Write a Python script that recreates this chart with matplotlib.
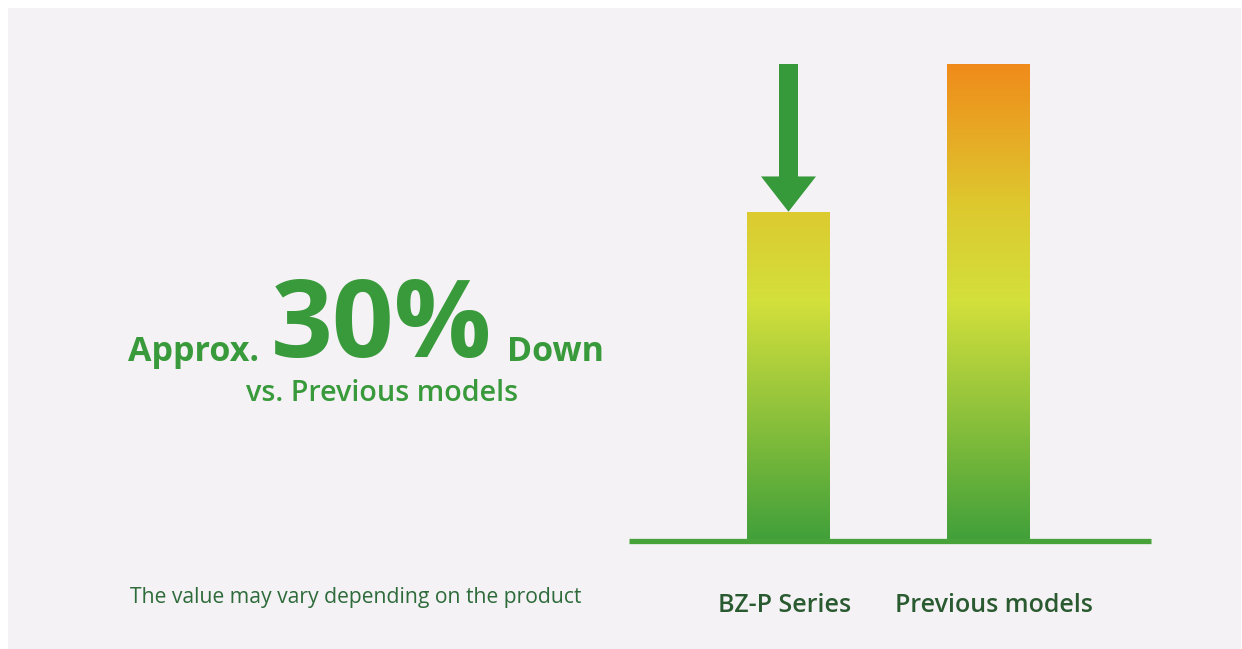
import numpy as np
import matplotlib
matplotlib.use("Agg")
import matplotlib.pyplot as plt
from matplotlib.colors import LinearSegmentedColormap
from matplotlib.patches import Rectangle, FancyArrow

plt.rcParams['font.family'] = ['Open Sans', 'DejaVu Sans']

# data
categories = ['BZ-P Series', 'Previous models']
values = [69, 100]
headline_prefix = 'Approx.'
headline_value = '30%'
headline_suffix = 'Down'
subtitle = 'vs. Previous models'
footnote = 'The value may vary depending on the product'

W, H = 1242, 649
fig = plt.figure(figsize=(W / 100, H / 100), dpi=100, facecolor='white')

def fx(px):
    return px / W

def fy(py):
    return 1 - py / H

# light panel
fig.patches.append(Rectangle((fx(8), 0), fx(1241) - fx(8), fy(8), transform=fig.transFigure,
                             facecolor='#f4f2f5', edgecolor='none', zorder=-5))

# bar axes: x 629..1151 px, y baseline 540.5 .. top 64
ax = fig.add_axes([fx(629), fy(540.5), fx(1151) - fx(629), fy(64) - fy(540.5)])
ax.set_facecolor('none')
ax.axis('off')

x = np.arange(len(categories))
bars = ax.bar(x, values, width=0.415, color='none', edgecolor='none')

cmap = LinearSegmentedColormap.from_list('grad', [(0.0, '#41a03a'), (0.5, '#d3e03c'),
                                                   (0.7, '#ddc92f'), (1.0, '#f08b1a')])
grad = np.linspace(0, 1, 256).reshape(-1, 1)
for b in bars:
    im = ax.imshow(grad, extent=[b.get_x(), b.get_x() + b.get_width(), 0, 100],
                   origin='lower', cmap=cmap, aspect='auto', zorder=2)
    im.set_clip_path(b)
ax.set_xlim(-0.7975, 1.8125)
ax.set_ylim(0, 100)

ax.axhline(0, color='#47a23a', lw=3.8, clip_on=False, solid_capstyle='butt', zorder=3)

# arrow from previous level down to new level
arr = FancyArrow(x[0], values[1], 0, values[0] - values[1], width=0.095, head_width=0.275,
                 head_length=7.4, length_includes_head=True, color='#369a3a', lw=0, zorder=4)
arr.set_clip_on(False)
ax.add_patch(arr)

# category labels (slight horizontal nudges as in the original layout)
label_dx = [-3.5, 5.5]
for xi, lab, dx in zip(x, categories, label_dx):
    ax.annotate(lab, (xi, 0), xytext=(dx * 0.72, -71 * 0.72), textcoords='offset points',
                ha='center', va='baseline', fontsize=18, fontweight='semibold',
                color='#2a5a30', annotation_clip=False)

green = '#389a3a'
fig.text(fx(259), fy(361), headline_prefix, ha='right', va='baseline', fontsize=24.5,
         fontweight='bold', color=green)
fig.text(fx(381.5), fy(357), headline_value, ha='center', va='baseline', fontsize=78,
         fontweight='bold', color=green)
fig.text(fx(507), fy(361), headline_suffix, ha='left', va='baseline', fontsize=24.5,
         fontweight='bold', color=green)
fig.text(fx(382), fy(401), subtitle, ha='center', va='baseline', fontsize=20.7,
         fontweight='semibold', color=green)
fig.text(fx(130), fy(603), footnote, ha='left', va='baseline', fontsize=15.2,
         color='#2e6b3a')

fig.savefig('out.png', dpi=100, facecolor='white')
